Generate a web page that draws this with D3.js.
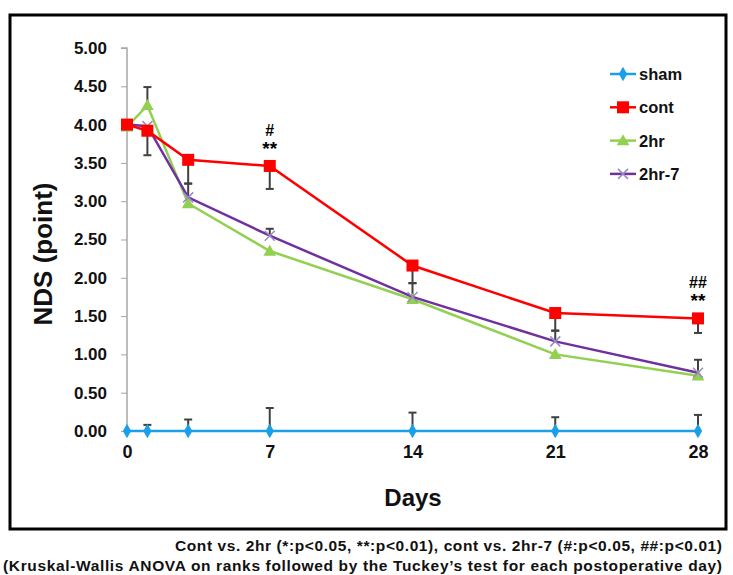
<!DOCTYPE html>
<html><head><meta charset="utf-8">
<script src="https://cdn.jsdelivr.net/npm/d3@7"></script>
<style>body{margin:0;background:#fff}svg{display:block}text{font-family:"Liberation Sans",Arial,sans-serif;font-weight:bold}</style>
</head><body><svg id="c" width="733" height="575"></svg>
<script>
const days = [0, 1, 3, 7, 14, 21, 28];
const xTicks = [0, 7, 14, 21, 28];
const yTicks = [0, 0.5, 1, 1.5, 2, 2.5, 3, 3.5, 4, 4.5, 5];
const seriesNames = ["sham", "cont", "2hr", "2hr-7"];
const sham = [0, 0, 0, 0, 0, 0, 0];
const cont = [4.00, 3.92, 3.54, 3.46, 2.16, 1.54, 1.47];
const hr2 = [3.97, 4.25, 2.97, 2.35, 1.72, 1.00, 0.72];
const hr27 = [4.00, 3.98, 3.05, 2.55, 1.75, 1.17, 0.76];
// error bar ends (null = none)
const shamErrTop = [null, 0.08, 0.15, 0.30, 0.24, 0.18, 0.21];
const contErrBottom = [null, 3.60, 3.23, 3.16, 1.93, 1.31, 1.28];
const hr2ErrTop = [null, 4.49, null, null, null, null, null];
const hr27ErrTop = [null, null, 3.23, 2.64, 1.93, 1.31, 0.93];
const notes = [{day: 7, top: "#", bottom: "**", v: 3.46}, {day: 28, top: "##", bottom: "**", v: 1.47}];
const footnote1 = "Cont vs. 2hr (*:p<0.05, **:p<0.01), cont vs. 2hr-7 (#:p<0.05, ##:p<0.01)";
const footnote2 = "(Kruskal-Wallis ANOVA on ranks followed by the Tuckey\u2019s test for each postoperative day)";

const colors = {"sham": "#1aa0e8", "cont": "#ff0000", "2hr": "#92d050", "2hr-7": "#7030a0"};
const svg = d3.select("#c");
svg.append("rect").attr("x", 10).attr("y", 15).attr("width", 716).attr("height", 514)
  .attr("fill", "none").attr("stroke", "#000").attr("stroke-width", 3);

const x = d3.scaleLinear().domain([0, 28]).range([127, 698]);
const y = d3.scaleLinear().domain([0, 5]).range([431, 48]);

// y axis
const ya = svg.append("g").attr("transform", "translate(127,0)")
  .call(d3.axisLeft(y).tickValues(yTicks).tickFormat(d3.format(".2f")).tickSize(6).tickPadding(14));
ya.select(".domain").attr("stroke", "#a6a6a6").attr("stroke-width", 1.5).attr("d", "M-6," + y(5) + "H0V" + y(0));
ya.selectAll(".tick line").attr("stroke", "#a6a6a6");
ya.selectAll("text").attr("font-size", 17).attr("fill", "#111").style("font-family", "Liberation Sans, Arial").style("font-weight", "bold");

// x axis
const xa = svg.append("g").attr("transform", "translate(0,431)")
  .call(d3.axisBottom(x).tickValues(xTicks).tickSize(0).tickPadding(14));
xa.select(".domain").attr("stroke", "#a6a6a6");
xa.selectAll("text").attr("font-size", 18).attr("fill", "#111").style("font-family", "Liberation Sans, Arial").style("font-weight", "bold");

// error bars
const eb = svg.append("g").attr("stroke", "#404040").attr("stroke-width", 2);
function errBars(vals, ends) {
  days.forEach((d, i) => {
    if (ends[i] == null) return;
    eb.append("line").attr("x1", x(d)).attr("x2", x(d)).attr("y1", y(vals[i])).attr("y2", y(ends[i]));
    eb.append("line").attr("x1", x(d) - 4).attr("x2", x(d) + 4).attr("y1", y(ends[i])).attr("y2", y(ends[i]));
  });
}
errBars(sham, shamErrTop);
errBars(cont, contErrBottom);
errBars(hr2, hr2ErrTop);
errBars(hr27, hr27ErrTop);

const line = d3.line().x((d, i) => x(days[i])).y(d => y(d));
const data = {"sham": sham, "cont": cont, "2hr": hr2, "2hr-7": hr27};

function marker(g, name, cx, cy) {
  const c = colors[name];
  if (name === "sham") g.append("path").attr("d", d3.symbol(d3.symbolDiamond, 60)()).attr("transform", `translate(${cx},${cy})`).attr("fill", c);
  else if (name === "cont") g.append("rect").attr("x", cx - 6).attr("y", cy - 6).attr("width", 12).attr("height", 12).attr("fill", c);
  else if (name === "2hr") g.append("path").attr("d", d3.symbol(d3.symbolTriangle, 70)()).attr("transform", `translate(${cx},${cy + 1})`).attr("fill", c);
  else g.append("path").attr("d", "M-5,-5L5,5M-5,5L5,-5").attr("transform", `translate(${cx},${cy})`).attr("stroke", "#9a8cc0").attr("stroke-width", 1.5).attr("fill", "none");
}

["2hr", "2hr-7", "cont", "sham"].forEach(name => {
  const g = svg.append("g");
  g.append("path").attr("d", line(data[name])).attr("fill", "none").attr("stroke", colors[name]).attr("stroke-width", 2.5);
  data[name].forEach((v, i) => marker(g, name, x(days[i]), y(v)));
});

// annotations
notes.forEach(n => {
  svg.append("text").attr("x", x(n.day)).attr("y", y(n.v) - 30).attr("text-anchor", "middle").attr("font-size", 16).text(n.top);
  svg.append("text").attr("x", x(n.day)).attr("y", y(n.v) - 11).attr("text-anchor", "middle").attr("font-size", 19).text(n.bottom);
});

// legend
seriesNames.forEach((name, i) => {
  const ly = 74 + i * 33.3;
  const g = svg.append("g");
  g.append("line").attr("x1", 610).attr("x2", 636).attr("y1", ly).attr("y2", ly).attr("stroke", colors[name]).attr("stroke-width", 2.5);
  marker(g, name, 623, ly);
  g.append("text").attr("x", 639).attr("y", ly + 6).attr("font-size", 16.5).attr("fill", "#111").text(name);
});

// axis titles
svg.append("text").attr("x", 413).attr("y", 506).attr("text-anchor", "middle").attr("font-size", 24).attr("fill", "#111").text("Days");
svg.append("text").attr("transform", "translate(52,254) rotate(-90)").attr("text-anchor", "middle").attr("font-size", 26).attr("fill", "#111").text("NDS (point)");

// footnotes
svg.append("text").attr("x", 722).attr("y", 551).attr("text-anchor", "end").attr("font-size", 15.5).attr("fill", "#111")
  .attr("textLength", 547).attr("lengthAdjust", "spacing").text(footnote1);
svg.append("text").attr("x", 722).attr("y", 571).attr("text-anchor", "end").attr("font-size", 15.5).attr("fill", "#111")
  .attr("textLength", 719).attr("lengthAdjust", "spacing").text(footnote2);
</script></body></html>
